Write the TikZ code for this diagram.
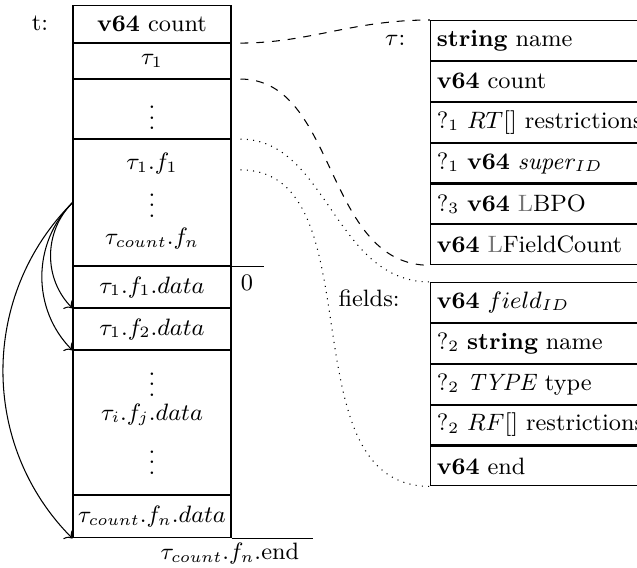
\documentclass[tikz,border=0pt]{standalone}
\usepackage{amsmath}
\usepackage{tikz}
\usetikzlibrary{arrows.meta, positioning}

\begin{document}
\begin{tikzpicture}[
    >=To,
    cell/.style={draw, minimum width=2.11cm, inner sep=0pt, font=\small},
    row/.style={draw, minimum height=0.532cm, text width=2.95cm, align=left, inner xsep=2.4pt, inner ysep=1pt, font=\small},
    lbl/.style={font=\small},
    inlbl/.style={font=\small, inner sep=0pt},
    ptr/.style={->, thin},
    dashlink/.style={dashed, shorten <=0.12cm},
    dotlink/.style={dotted, shorten <=0.12cm},
]
\useasboundingbox (0,0) rectangle (8.508,-7.573);
\clip (0,0) rectangle (8.508,-7.573);
% ============================================================
% t: the block, one column of cells
% ============================================================
\node[lbl] (tlbl) at (0.534, -0.314) {t:};
\node[cell, minimum height=0.494cm, anchor=north] (cnt) at (2.03, -0.067) {\textbf{v64} count};
\node[cell, minimum height=0.467cm, below=0pt of cnt] (tau1) {$\tau_1$};
\node[cell, minimum height=0.788cm, below=0pt of tau1] (tdots) {};
\node[inlbl] (tdotsl) at (2.03, -1.47) {$\vdots$};
\node[cell, minimum height=1.683cm, below=0pt of tdots] (flds) {};
\node[inlbl] (f1) at (2.03, -2.19) {$\tau_1.f_1$};
\node[inlbl] (fdots) at (2.03, -2.64) {$\vdots$};
\node[inlbl] (fn) at (2.03, -3.19) {$\tau_{count}.f_n$};
% --- data part ---
\node[cell, minimum height=0.548cm, below=0pt of flds] (d11) {$\tau_1.f_1.data$};
\node[cell, minimum height=0.548cm, below=0pt of d11] (d12) {$\tau_1.f_2.data$};
\node[cell, minimum height=1.923cm, below=0pt of d12] (dij) {};
\node[inlbl] (ddots1) at (2.03, -5.03) {$\vdots$};
\node[inlbl] (dmid) at (2.03, -5.54) {$\tau_i.f_j.data$};
\node[inlbl] (ddots2) at (2.03, -6.07) {$\vdots$};
\node[cell, minimum height=0.561cm, below=0pt of dij] (dend) {$\tau_{count}.f_n.data$};
% --- offsets ---
\draw (d11.north east) -- +(0.43,0);
\node[lbl] (zero) at (3.30, -3.78) {0};
\draw (dend.south east) -- +(1.095,0);
\node[lbl] (endlbl) at (3.07, -7.40) {$\tau_{count}.f_n$.end};
% --- pointers into the data part ---
\draw[ptr] (flds.west) to[bend right=45] (d11.south west);
\draw[ptr] (flds.west) to[bend right=45] (d12.south west);
\draw[ptr] (flds.west) to[bend right=45] (dend.south west);
% ============================================================
% tau: one type entry
% ============================================================
\node[lbl] (taulbl) at (5.28, -0.54) {$\tau$:};
\node[row, anchor=north west] (tname) at (5.743, -0.267) {\textbf{string} name};
\node[row, below=0pt of tname] (tcnt) {\textbf{v64} count};
\node[row, below=0pt of tcnt] (trst) {?$_1$ $RT$[] restrictions};
\node[row, below=0pt of trst] (tsup) {?$_1$ \textbf{v64} \textit{super}$_{ID}$};
\node[row, below=0pt of tsup] (tlbpo) {?$_3$ \textbf{v64} \textcolor{black!55}{L}BPO};
\node[row, below=0pt of tlbpo] (tlfc) {\textbf{v64} \textcolor{black!55}{L}FieldCount};
% ============================================================
% fields: one field entry
% ============================================================
\node[lbl] (fldlbl) at (4.93, -3.98) {fields:};
\node[row, anchor=north west] (fid) at (5.743, -3.766) {\textbf{v64} $field_{ID}$};
\node[row, below=0pt of fid] (fname) {?$_2$ \textbf{string} name};
\node[row, below=0pt of fname] (ftype) {?$_2$ \textit{TYPE} type};
\node[row, below=0pt of ftype] (frst) {?$_2$ $RF$[] restrictions};
\node[row, below=0pt of frst] (fend) {\textbf{v64} end};
% --- links from t to the entries ---
\draw[dashlink] (tau1.north east) to[out=0, in=180] (tname.north west);
\draw[dashlink] (tau1.south east) to[out=0, in=180] (tlfc.south west);
\draw[dotlink] (flds.north east) to[out=0, in=180] (fid.north west);
\draw[dotlink] (f1.base -| flds.east) to[out=0, in=180] (fend.south west);
\end{tikzpicture}
\end{document}
